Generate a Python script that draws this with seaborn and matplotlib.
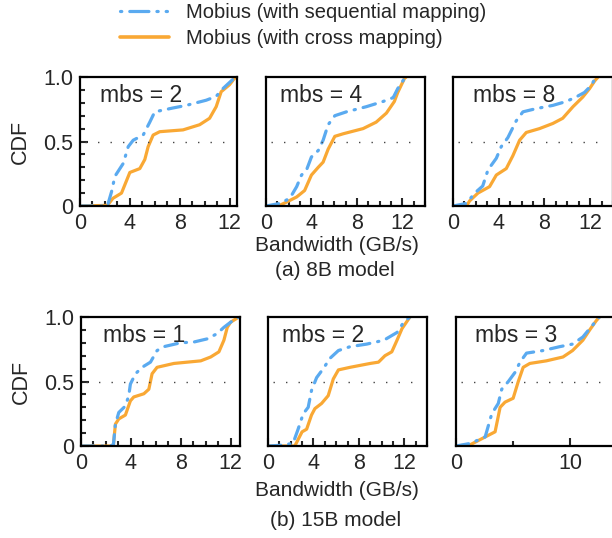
import numpy as np
import pandas as pd
import seaborn as sns
import matplotlib.pyplot as plt
from matplotlib.lines import Line2D
from matplotlib.ticker import MultipleLocator

# colores y estilos
AZUL = '#5aaaf0'
NARANJA = '#f9a834'

# datos: (ancho de banda GB/s, CDF)
# fila (a) modelo 8B
a2_seq_x = [0, 2.2, 2.53, 2.8, 3.47, 3.87, 4.27, 5.07, 5.6, 6.0, 7.47, 8.53, 10.13, 10.93, 11.47, 12.25, 12.6]
a2_seq_y = [0, 0.0, 0.11, 0.23, 0.33, 0.46, 0.51, 0.55, 0.65, 0.73, 0.76, 0.78, 0.82, 0.85, 0.91, 0.98, 1.0]
a2_cross_x = [0, 2.2, 2.65, 3.33, 4.0, 4.8, 5.2, 5.47, 5.87, 6.4, 8.27, 9.6, 10.4, 10.93, 11.33, 12.0, 12.4, 12.6]
a2_cross_y = [0, 0.005, 0.06, 0.1, 0.26, 0.29, 0.36, 0.46, 0.55, 0.576, 0.59, 0.63, 0.68, 0.77, 0.886, 0.94, 0.99, 1.0]

a4_seq_x = [0, 1.23, 2.1, 2.7, 3.13, 3.57, 4.0, 4.6, 5.03, 5.47, 6.06, 7.08, 8.84, 10.3, 11.2, 11.6, 12.2, 12.4]
a4_seq_y = [0, 0.02, 0.06, 0.15, 0.24, 0.28, 0.38, 0.43, 0.51, 0.63, 0.70, 0.73, 0.77, 0.81, 0.84, 0.91, 0.99, 1.0]
a4_cross_x = [0, 1.08, 1.8, 2.7, 3.4, 4.0, 4.6, 5.03, 5.47, 6.06, 6.8, 8.55, 9.7, 10.6, 11.3, 11.6, 12.2, 12.35]
a4_cross_y = [0, 0.0, 0.03, 0.07, 0.12, 0.24, 0.30, 0.34, 0.44, 0.54, 0.56, 0.60, 0.65, 0.72, 0.81, 0.88, 0.99, 1.0]

a8_seq_x = [0, 1.17, 1.9, 2.6, 3.06, 3.79, 4.22, 4.8, 5.53, 6.12, 7.28, 8.74, 9.9, 10.77, 11.5, 12.1, 12.5]
a8_seq_y = [0, 0.02, 0.1, 0.155, 0.28, 0.37, 0.46, 0.53, 0.66, 0.73, 0.755, 0.78, 0.81, 0.845, 0.88, 0.935, 1.0]
a8_cross_x = [0, 1.17, 1.46, 2.18, 3.2, 3.79, 4.66, 5.24, 5.83, 6.41, 7.57, 8.74, 9.6, 10.5, 11.36, 11.95, 12.4, 12.7]
a8_cross_y = [0, 0.0, 0.04, 0.1, 0.15, 0.24, 0.29, 0.39, 0.51, 0.57, 0.6, 0.64, 0.68, 0.77, 0.845, 0.91, 0.97, 1.0]

# fila (b) modelo 15B
b1_seq_x = [0, 2.36, 2.6, 2.76, 3.03, 3.56, 3.83, 3.96, 4.37, 4.9, 5.57, 6.1, 6.64, 7.98, 9.05, 10.1, 10.9, 11.46, 12.0, 12.67]
b1_seq_y = [0, 0.0, 0.01, 0.17, 0.26, 0.31, 0.39, 0.48, 0.56, 0.61, 0.65, 0.74, 0.77, 0.80, 0.806, 0.83, 0.87, 0.92, 0.96, 1.0]
b1_cross_x = [0, 2.36, 2.6, 2.76, 3.03, 3.56, 3.96, 4.23, 5.04, 5.44, 5.7, 6.1, 7.45, 9.6, 10.4, 11.06, 11.46, 11.73, 12.0, 12.67]
b1_cross_y = [0, 0.0, 0.01, 0.17, 0.21, 0.24, 0.35, 0.38, 0.405, 0.44, 0.56, 0.61, 0.64, 0.66, 0.69, 0.73, 0.82, 0.92, 0.96, 1.0]

b2_seq_x = [0, 1.03, 2.2, 2.65, 3.1, 3.54, 3.83, 4.28, 4.87, 5.46, 6.2, 7.23, 8.7, 10.2, 11.36, 11.95, 12.5]
b2_seq_y = [0, 0.005, 0.02, 0.13, 0.25, 0.30, 0.43, 0.53, 0.60, 0.68, 0.74, 0.77, 0.79, 0.82, 0.88, 0.96, 1.0]
b2_cross_x = [0, 2.36, 3.0, 3.4, 3.83, 4.13, 4.72, 5.3, 5.75, 6.2, 7.23, 9.0, 9.73, 10.3, 10.9, 11.36, 11.8, 12.5]
b2_cross_y = [0, 0.0, 0.11, 0.13, 0.24, 0.29, 0.33, 0.39, 0.52, 0.59, 0.61, 0.64, 0.65, 0.70, 0.73, 0.82, 0.91, 1.0]

b3_seq_x = [0, 1.25, 2.55, 2.84, 3.13, 3.7, 4.0, 4.58, 5.16, 5.6, 6.17, 7.62, 9.07, 10.2, 11.1, 11.7, 12.26, 12.55]
b3_seq_y = [0, 0.02, 0.07, 0.16, 0.25, 0.33, 0.44, 0.50, 0.57, 0.65, 0.72, 0.74, 0.77, 0.79, 0.845, 0.91, 0.97, 1.0]
b3_cross_x = [0, 1.25, 2.55, 3.42, 3.86, 4.29, 5.0, 5.45, 5.88, 6.46, 7.9, 9.36, 10.2, 11.1, 11.7, 12.26, 12.55]
b3_cross_y = [0, 0.01, 0.07, 0.11, 0.30, 0.34, 0.37, 0.50, 0.61, 0.64, 0.66, 0.69, 0.74, 0.82, 0.90, 0.97, 1.0]

paneles = [
    # (etiqueta, seq_x, seq_y, cross_x, cross_y, xlim, paso mayor, paso menor, pos texto)
    ('mbs = 2', a2_seq_x, a2_seq_y, a2_cross_x, a2_cross_y, 12.6, 4, 1, 0.127),
    ('mbs = 4', a4_seq_x, a4_seq_y, a4_cross_x, a4_cross_y, 14, 4, 1, 0.088),
    ('mbs = 8', a8_seq_x, a8_seq_y, a8_cross_x, a8_cross_y, 14, 4, 1, 0.125),
    ('mbs = 1', b1_seq_x, b1_seq_y, b1_cross_x, b1_cross_y, 12.75, 4, 1, 0.14),
    ('mbs = 2', b2_seq_x, b2_seq_y, b2_cross_x, b2_cross_y, 14, 4, 1, 0.088),
    ('mbs = 3', b3_seq_x, b3_seq_y, b3_cross_x, b3_cross_y, 14, 10, 5, 0.12),
]

# posiciones de los ejes en la figura (pixeles: izquierda, arriba, ancho, alto)
W, H = 612, 538
cajas = [
    (80, 77, 157, 129), (266, 77, 159, 129), (453, 77, 160, 129),
    (81, 317, 159, 129), (268, 317, 159, 129), (456, 317, 160, 129),
]

sns.set_style('white')
plt.rcParams['font.family'] = ['Liberation Sans', 'DejaVu Sans']
plt.rcParams['font.size'] = 15

fig = plt.figure(figsize=(W / 100, H / 100), dpi=100)

SEQ_STYLE = (0, (4, 2.5, 0.4, 2.5))

for i, (p, caja) in enumerate(zip(paneles, cajas)):
    etiqueta, sx, sy, cx, cy, xmax, mayor, menor, tx = p
    l, t, w, h = caja
    ax = fig.add_axes([l / W, 1 - (t + h) / H, w / W, h / H])

    df_c = pd.DataFrame({'x': cx, 'y': cy})
    df_s = pd.DataFrame({'x': sx, 'y': sy})
    sns.lineplot(data=df_c, x='x', y='y', ax=ax, color=NARANJA, lw=2.3,
                 sort=False, estimator=None, solid_capstyle='butt')
    sns.lineplot(data=df_s, x='x', y='y', ax=ax, color=AZUL, lw=2.3,
                 sort=False, estimator=None, linestyle=SEQ_STYLE,
                 dash_capstyle='round')

    ax.axhline(0.5, xmin=0.03, xmax=0.94, color='#444444', lw=1,
               linestyle=(0, (1, 8)))
    ax.set_xlim(0, xmax)
    ax.set_ylim(0, 1)
    ax.set_xlabel('')
    ax.set_ylabel('')
    ax.text(tx, 0.86, etiqueta, transform=ax.transAxes, fontsize=16.5,
            va='center', ha='left')

    ax.xaxis.set_major_locator(MultipleLocator(mayor))
    ax.xaxis.set_minor_locator(MultipleLocator(menor))
    ax.yaxis.set_major_locator(MultipleLocator(0.5))
    ax.yaxis.set_minor_locator(MultipleLocator(0.1))
    ax.tick_params(which='both', direction='in', bottom=True, left=(i % 3 == 0),
                   top=False, right=False, width=1.5, labelsize=15.5)
    ax.tick_params(which='major', length=6, pad=5)
    ax.tick_params(which='minor', length=3.5)
    if i % 3 == 0:
        ax.set_yticks([0, 0.5, 1.0])
        ax.set_yticklabels(['0', '0.5', '1.0'])
        ax.set_ylabel('CDF', fontsize=15.5, labelpad=9)
    else:
        ax.tick_params(axis='y', which='both', labelleft=False, left=False)

    for s in ax.spines.values():
        s.set_visible(True)
        s.set_color('black')
        s.set_linewidth(1.6)

# textos de la figura
fig.text(337 / W, 1 - 245 / H, 'Bandwidth (GB/s)', ha='center', va='center', fontsize=15)
fig.text(335 / W, 1 - 270 / H, '(a) 8B model', ha='center', va='center', fontsize=15)
fig.text(337 / W, 1 - 490 / H, 'Bandwidth (GB/s)', ha='center', va='center', fontsize=15)
fig.text(336 / W, 1 - 520 / H, '(b) 15B model', ha='center', va='center', fontsize=15)

# leyenda
manejadores = [
    Line2D([], [], color=AZUL, lw=2.3, linestyle=(0, (0.4, 2.5, 6, 2.5, 0.4, 2.5)),
           dash_capstyle='round'),
    Line2D([], [], color=NARANJA, lw=2.6),
]
fig.legend(manejadores, ['Mobius (with sequential mapping)', 'Mobius (with cross mapping)'],
           loc='upper left', bbox_to_anchor=(120 / W, 1 - 3 / H), frameon=False,
           fontsize=14.5, handlelength=2.45, handletextpad=0.85, labelspacing=0.35,
           borderpad=0, borderaxespad=0)

fig.savefig('out.png', dpi=100)
